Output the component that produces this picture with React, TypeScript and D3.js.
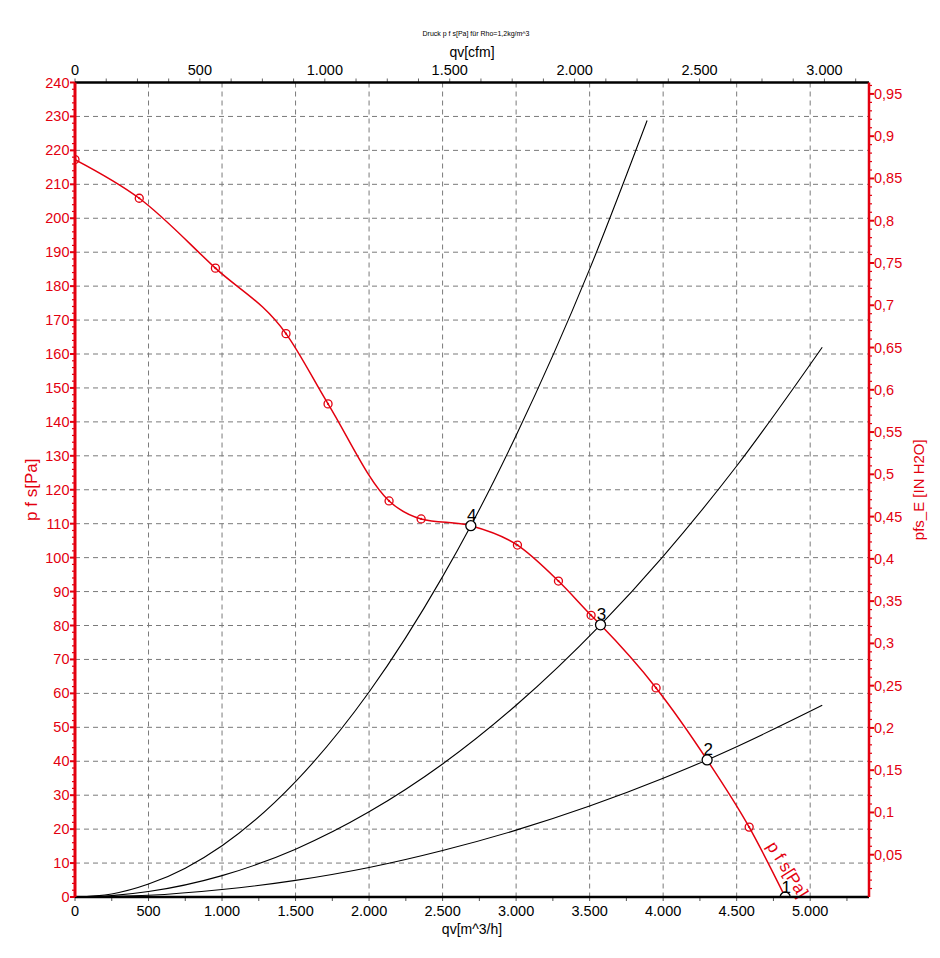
import React from 'react';
import * as d3 from 'd3';

// ---- data ----
// fan curve p_fs [Pa] vs qv [m^3/h]
const fanFlow = [0, 437, 955, 1435, 1721, 2136, 2354, 2692, 3009, 3288, 3510, 3574, 3952, 4299, 4585, 4830];
const fanPressure = [217.3, 205.9, 185.3, 166, 145.3, 116.7, 111.4, 109.4, 103.7, 93.1, 83, 80.2, 61.6, 40.4, 20.6, 0];

// red measurement markers
const markerFlow = [0, 437, 955, 1435, 1721, 2136, 2354, 3009, 3288, 3510, 3952, 4585];
const markerPressure = [217.3, 205.9, 185.3, 166, 145.3, 116.7, 111.4, 103.7, 93.1, 83, 61.6, 20.6];

// operating points
const opLabels = ['4', '3', '2', '1'];
const opFlow = [2692, 3574, 4299, 4830];
const opPressure = [109.4, 80.2, 40.4, 0];

// system curves
const sys4Flow = [0, 250, 500, 750, 1000, 1500, 2000, 2500, 2692, 3000, 3500, 3891];
const sys4Pressure = [0, 0.9, 3.8, 8.5, 15.1, 34, 60.4, 94.4, 109.4, 136, 185, 228.8];
const sys3Flow = [0, 250, 500, 1000, 1500, 2000, 2500, 3000, 3574, 4000, 4500, 5082];
const sys3Pressure = [0, 0.4, 1.6, 6.3, 14.1, 25.1, 39.2, 56.5, 80.2, 100.4, 127, 162];
const sys2Flow = [0, 500, 1000, 1500, 2000, 2500, 3000, 3500, 4000, 4299, 4500, 5082];
const sys2Pressure = [0, 0.5, 2.2, 4.9, 8.7, 13.7, 19.7, 26.8, 35, 40.4, 44.3, 56.5];

// ticks
const flowTicks = [0, 500, 1000, 1500, 2000, 2500, 3000, 3500, 4000, 4500, 5000];
const flowTickLabels = ['0', '500', '1.000', '1.500', '2.000', '2.500', '3.000', '3.500', '4.000', '4.500', '5.000'];
const cfmTicks = [0, 500, 1000, 1500, 2000, 2500, 3000];
const cfmTickLabels = ['0', '500', '1.000', '1.500', '2.000', '2.500', '3.000'];
const pressureTicks = [0, 10, 20, 30, 40, 50, 60, 70, 80, 90, 100, 110, 120, 130, 140, 150, 160, 170, 180, 190, 200, 210, 220, 230, 240];
const inH2OTicks = [0.05, 0.1, 0.15, 0.2, 0.25, 0.3, 0.35, 0.4, 0.45, 0.5, 0.55, 0.6, 0.65, 0.7, 0.75, 0.8, 0.85, 0.9, 0.95];
const inH2OTickLabels = ['0,05', '0,1', '0,15', '0,2', '0,25', '0,3', '0,35', '0,4', '0,45', '0,5', '0,55', '0,6', '0,65', '0,7', '0,75', '0,8', '0,85', '0,9', '0,95'];

const CFM_TO_M3H = 1.699;
const INH2O_TO_PA = 249.089;

const W = 940;
const H = 958;
const L = 75;
const R = 869;
const T = 82.5;
const B = 897;

const RED = '#e3000f';
const FONT = "Arial, 'Liberation Sans', sans-serif";

export default function App() {
  const x = d3.scaleLinear().domain([0, 5400]).range([L, R]);
  const y = d3.scaleLinear().domain([0, 240]).range([B, T]);
  const xc = (cfm: number) => x(cfm * CFM_TO_M3H);
  const yw = (w: number) => y(w * INH2O_TO_PA);

  const fanLine = d3
    .line<number>()
    .x((_, i) => x(fanFlow[i]))
    .y((_, i) => y(fanPressure[i]))
    .curve(d3.curveMonotoneX);

  const sysLine = (fx: number[], fy: number[]) =>
    d3
      .line<number>()
      .x((_, i) => x(fx[i]))
      .y((_, i) => y(fy[i]))
      .curve(d3.curveMonotoneX)(fx) as string;

  const minorFlow = d3.range(0, 5401, 250);
  const minorCfm = d3.range(0, 5400 / CFM_TO_M3H, 125);
  const minorPa = d3.range(0, 241, 2);
  const minorW = d3.range(1, 97).map((v) => v / 100);

  const gridY = pressureTicks.filter((v) => v > 0 && v < 240);
  const gridX = flowTicks.filter((v) => v > 0);

  return (
    <svg
      width={W}
      height={H}
      style={{ position: 'absolute', left: 0, top: 0, background: '#fff' }}
      fontFamily={FONT}
    >
      <defs>
        <clipPath id="plot">
          <rect x={L} y={T} width={R - L} height={B - T} />
        </clipPath>
      </defs>

      {/* title */}
      <text x={476} y={36} fontSize={7} textAnchor="middle" fill="#000">
        Druck p f s[Pa] für Rho=1,2kg/m^3
      </text>

      {/* grid */}
      <g stroke="#7a7a7a" strokeWidth={1} strokeDasharray="5,4">
        {gridY.map((v) => (
          <line key={'gy' + v} x1={L} x2={R} y1={y(v)} y2={y(v)} />
        ))}
        {gridX.map((v) => (
          <line key={'gx' + v} x1={x(v)} x2={x(v)} y1={T} y2={B} />
        ))}
      </g>

      {/* curves */}
      <g clipPath="url(#plot)">
        <path d={sysLine(sys4Flow, sys4Pressure)} fill="none" stroke="#000" strokeWidth={1.1} />
        <path d={sysLine(sys3Flow, sys3Pressure)} fill="none" stroke="#000" strokeWidth={1.1} />
        <path d={sysLine(sys2Flow, sys2Pressure)} fill="none" stroke="#000" strokeWidth={1.1} />
        <path d={fanLine(fanFlow) as string} fill="none" stroke={RED} strokeWidth={1.5} />
        {markerFlow.map((f, i) => (
          <g key={'m' + i}>
            <circle cx={x(f)} cy={y(markerPressure[i])} r={4} fill="none" stroke={RED} strokeWidth={1.3} />
            <circle cx={x(f)} cy={y(markerPressure[i])} r={1.1} fill={RED} />
          </g>
        ))}
        {opFlow.map((f, i) => (
          <circle key={'o' + i} cx={x(f)} cy={y(opPressure[i])} r={5} fill="#fff" stroke="#000" strokeWidth={1.3} />
        ))}
      </g>
      {opFlow.map((f, i) => (
        <text key={'ol' + i} x={x(f) + 1} y={y(opPressure[i]) - 4.5} fontSize={17} textAnchor="middle" fill="#000">
          {opLabels[i]}
        </text>
      ))}

      {/* on-curve label */}
      <text
        transform={`translate(${x(4585) + 17},${y(20.6) + 19}) rotate(58)`}
        fontSize={17}
        fill={RED}
      >
        p f s[Pa]
      </text>

      {/* bottom axis */}
      <g stroke="#555" strokeWidth={1}>
        {minorFlow.map((v) => (
          <line key={'bt' + v} x1={x(v)} x2={x(v)} y1={B} y2={B + 4} />
        ))}
      </g>
      <line x1={L} x2={R} y1={B} y2={B} stroke="#000" strokeWidth={2.5} />
      {flowTicks.map((v, i) => (
        <text key={'bl' + v} x={x(v)} y={916} fontSize={14.5} textAnchor="middle" fill="#000">
          {flowTickLabels[i]}
        </text>
      ))}
      <text x={(L + R) / 2} y={934} fontSize={14} textAnchor="middle" fill="#000">
        qv[m^3/h]
      </text>

      {/* top axis */}
      <g stroke="#666" strokeWidth={1}>
        {minorCfm.map((v) => (
          <line key={'tt' + v} x1={xc(v)} x2={xc(v)} y1={T - 4} y2={T} />
        ))}
      </g>
      <line x1={L} x2={R} y1={T} y2={T} stroke="#000" strokeWidth={2.5} />
      {cfmTicks.map((v, i) => (
        <text key={'tl' + v} x={xc(v)} y={75} fontSize={14.5} textAnchor="middle" fill="#000">
          {cfmTickLabels[i]}
        </text>
      ))}
      <text x={(L + R) / 2} y={57} fontSize={14} textAnchor="middle" fill="#000">
        qv[cfm]
      </text>

      {/* left axis */}
      <g stroke={RED} strokeWidth={1.2}>
        {minorPa.map((v) => (
          <line key={'lt' + v} x1={v % 10 === 0 ? L - 5 : L - 3} x2={L} y1={y(v)} y2={y(v)} strokeWidth={v % 10 === 0 ? 2 : 1.2} />
        ))}
      </g>
      <line x1={L} x2={L} y1={T} y2={B} stroke={RED} strokeWidth={3} />
      {pressureTicks.map((v) => (
        <text key={'ll' + v} x={69.5} y={y(v) + 5} fontSize={14.5} textAnchor="end" fill={RED}>
          {v}
        </text>
      ))}
      <text transform={`translate(37,${(T + B) / 2}) rotate(-90)`} fontSize={17} textAnchor="middle" fill={RED}>
        p f s[Pa]
      </text>

      {/* right axis */}
      <g stroke={RED} strokeWidth={1.2}>
        {minorW.map((v, i) => (
          <line
            key={'rt' + i}
            x1={R}
            x2={(i + 1) % 5 === 0 ? R + 5 : R + 3}
            y1={yw(v)}
            y2={yw(v)}
            strokeWidth={(i + 1) % 5 === 0 ? 2 : 1.2}
          />
        ))}
      </g>
      <line x1={R} x2={R} y1={T} y2={B} stroke={RED} strokeWidth={2.5} />
      {inH2OTicks.map((v, i) => (
        <text key={'rl' + i} x={874} y={yw(v) + 5} fontSize={14.5} textAnchor="start" fill={RED}>
          {inH2OTickLabels[i]}
        </text>
      ))}
      <text transform={`translate(924,${(T + B) / 2}) rotate(-90)`} fontSize={15} textAnchor="middle" fill={RED}>
        pfs_E [IN H2O]
      </text>
    </svg>
  );
}
